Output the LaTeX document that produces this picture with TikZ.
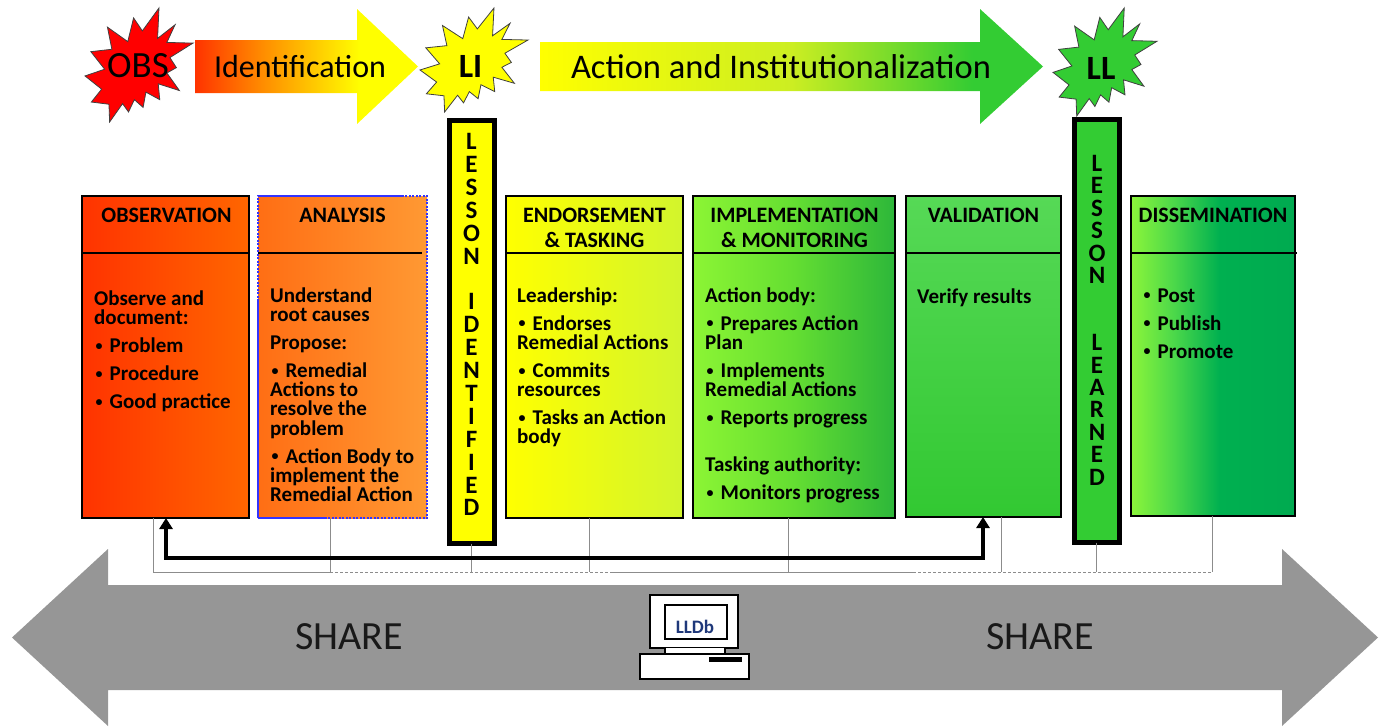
\documentclass[tikz,border=0pt]{standalone}
\usepackage{fontspec}
\setmainfont{Carlito}
\usetikzlibrary{arrows.meta}

\definecolor{obsL}{RGB}{255,51,0}
\definecolor{obsR}{RGB}{255,102,0}
\definecolor{anaL}{RGB}{255,110,20}
\definecolor{anaR}{RGB}{255,153,51}
\definecolor{endL}{RGB}{255,255,0}
\definecolor{endR}{RGB}{210,245,45}
\definecolor{impA}{RGB}{140,245,52}
\definecolor{impB}{RGB}{100,222,50}
\definecolor{impC}{RGB}{45,183,58}
\definecolor{valT}{RGB}{86,217,86}
\definecolor{valB}{RGB}{50,200,50}
\definecolor{disA}{RGB}{140,245,58}
\definecolor{disB}{RGB}{76,216,74}
\definecolor{disC}{RGB}{0,176,80}
\definecolor{disD}{RGB}{0,170,80}
\definecolor{idA}{RGB}{255,51,0}
\definecolor{idB}{RGB}{255,140,0}
\definecolor{idC}{RGB}{255,255,0}
\definecolor{actA}{RGB}{255,255,0}
\definecolor{actB}{RGB}{204,238,34}
\definecolor{actC}{RGB}{51,204,51}
\definecolor{starR}{RGB}{255,0,0}
\definecolor{starY}{RGB}{255,255,0}
\definecolor{starG}{RGB}{51,204,51}
\definecolor{barY}{RGB}{255,255,0}
\definecolor{barG}{RGB}{51,204,51}
\definecolor{shareGray}{RGB}{150,150,150}
\definecolor{busGray}{RGB}{140,140,140}
\definecolor{cBlue}{RGB}{51,51,255}
\definecolor{lldbBlue}{RGB}{31,56,122}

\pgfdeclarehorizontalshading{idsh}{100bp}{color(0bp)=(idA); color(25bp)=(idA); color(40bp)=(idB); color(62bp)=(idC); color(100bp)=(idC)}
\pgfdeclarehorizontalshading{actsh}{100bp}{color(0bp)=(actA); color(25bp)=(actA); color(50bp)=(actB); color(68bp)=(actC); color(100bp)=(actC)}
\pgfdeclarehorizontalshading{impsh}{100bp}{color(0bp)=(impA); color(25bp)=(impA); color(50bp)=(impB); color(75bp)=(impC); color(100bp)=(impC)}
\pgfdeclarehorizontalshading{dissh}{100bp}{color(0bp)=(disA); color(25bp)=(disA); color(38bp)=(disB); color(52bp)=(disC); color(75bp)=(disD); color(100bp)=(disD)}

\newcommand\bodytxt[1]{\vtop{\hsize=240pt\parindent=0pt\parskip=8.7pt\rightskip=0pt plus 1fil\fontsize{21}{19.3}\selectfont\bfseries #1}}
\newcommand\bul{\makebox[15.5pt][l]{\hspace{1.5pt}\raisebox{2.3pt}{\fontsize{14}{14}\selectfont\bfseries •}}}
\newcommand\hdrtxt[1]{\vtop{\baselineskip=25pt\halign{\hfil##\hfil\cr#1\crcr}}}
\newcommand\stackletters[2]{\vtop{\baselineskip=#1\lineskiplimit=-100pt\halign{\hfil##\hfil\cr#2\crcr}}}
\newcommand\explosion[5]{%
  \filldraw[fill=#5, draw=black!75, line width=0.8pt, shift={(#1,#2)}, xscale=#3/100, yscale=#4/100]
  (53.1,20.1) -- (45.0,8.7) -- (39.6,29.5) -- (20.8,16.8) -- (24.9,36.2) -- (5.4,38.3) -- (18.2,53.7) -- (0,59.6) -- (15.4,71.2) -- (5.9,82.5) -- (22.2,84.4) -- (22.8,100) -- (34.8,83.9) -- (40.3,91.2) -- (45.7,80.4) -- (53.8,87.2) -- (56.4,73.8) -- (69.2,80.4) -- (67.8,66.5) -- (87.4,72.4) -- (75.8,57.0) -- (84.6,52.3) -- (78.6,43.5) -- (100,30.8) -- (75.8,30.2) -- (83.4,14.7) -- (67.2,26.7) -- (68.5,0) -- cycle;}

\tikzset{
  box/.style={draw=black, line width=1.2pt, rectangle, inner sep=0pt, outer sep=0pt, anchor=north west},
  hdr/.style={font=\fontsize{22}{25}\selectfont\bfseries, inner sep=0pt, anchor=base},
  body/.style={inner sep=0pt, anchor=base west},
  bar/.style={draw=black, line width=5pt, rectangle, inner sep=0pt, outer sep=0pt, anchor=north west},
  barletters/.style={font=\fontsize{25}{25}\selectfont\bfseries, inner sep=0pt, anchor=base},
  divider/.style={draw=black, line width=1.2pt},
  bus/.style={draw=busGray, line width=1pt},
  busdot/.style={draw=busGray, line width=1pt, dash pattern=on 3pt off 2pt},
  fbk/.style={draw=black, line width=4pt, line join=miter, {Triangle[length=11pt,width=13pt]}-{Triangle[length=11pt,width=13pt]}},
  ttl/.style={font=\fontsize{32}{32}\selectfont, inner sep=0pt},
  starlbl/.style={font=\fontsize{37}{37}\selectfont, inner sep=0pt},
  sharelbl/.style={font=\fontsize{40}{40}\selectfont, text=black!90, inner sep=0pt},
  pc/.style={draw=black, fill=white, line width=2pt},
}

\begin{document}
\begin{tikzpicture}[x=1pt, y=-1pt]
\useasboundingbox (0,0) rectangle (1385,726);
\coordinate (hd) at (0,253);

% ---------- top arrows ----------
\shade[shading=idsh] (195,40) -- (357,40) -- (357,9) -- (418,66.5) -- (357,124) -- (357,93) -- (195,93) -- cycle;
\shade[shading=actsh] (540,42) -- (980,42) -- (980,9) -- (1043,66.5) -- (980,124) -- (980,91) -- (540,91) -- cycle;
\node[ttl] (idt) at (300,66.5) {Identification};
\node[ttl, font=\fontsize{34.5}{34.5}\selectfont] (actt) at (781,66.5) {Action and Institutionalization};

% ---------- stars ----------
\explosion{85}{8}{108}{114}{starR}
\explosion{420}{8}{108}{104}{starY}
\explosion{1053}{8}{104}{108}{starG}
\node[starlbl] (obsl) at (138,66) {OBS};
\node[starlbl, font=\fontsize{34}{34}\selectfont\bfseries] (lil) at (470.5,66.5) {LI};
\node[starlbl, font=\fontsize{34}{34}\selectfont\bfseries] (lll) at (1101,68) {LL};

% ---------- share arrow ----------
\fill[shareGray] (12,637.5) -- (108,549) -- (108,585) -- (1282,585) -- (1282,549) -- (1378,637.5) -- (1282,726) -- (1282,690) -- (108,690) -- (108,726) -- cycle;
\node[sharelbl] (sh1) at (349,637) {SHARE};
\node[sharelbl] (sh2) at (1040,637) {SHARE};

% ---------- computer ----------
\draw[pc] (650,595) rectangle (738,648);
\fill[white] (665,648) rectangle (725,654);
\draw[black, line width=1.5pt] (665,648) -- (665,654) (725,648) -- (725,654);
\draw[pc] (640,654) rectangle (749,679);
\fill[black] (709,657) rectangle (742,662);
\node[pc, minimum width=62pt, minimum height=34pt, inner sep=0pt, anchor=north west] (screen) at (664,604) {};
\node[font=\fontsize{19}{19}\selectfont\bfseries, text=lldbBlue, inner sep=0pt] (lldb) at (695,627) {LLDb};

% ---------- boxes ----------
\node[box, shade, left color=obsL, right color=obsR, minimum width=167pt, minimum height=322pt] (obs) at (82,196) {};
\node[box, shade, left color=anaL, right color=anaR, draw=cBlue, dash pattern=on 2pt off 1.5pt, minimum width=169pt, minimum height=322pt] (ana) at (258,196) {};
\node[box, shade, left color=endL, right color=endR, minimum width=177pt, minimum height=322pt] (endo) at (506,196) {};
\node[box, shade, shading=impsh, minimum width=202pt, minimum height=322pt] (imp) at (693,196) {};
\node[box, shade, top color=valT, bottom color=valB, minimum width=155pt, minimum height=321pt] (val) at (906,196) {};
\node[box, shade, shading=dissh, minimum width=164pt, minimum height=320pt] (dis) at (1131,196) {};

\draw[cBlue, line width=1.2pt] (ana.north west) -- ++(144,0) (ana.south west) -- ++(69,0) (ana.south west) -- ++(0,-218);

% dividers
\draw[divider] (obs.west |- hd) -- (obs.east |- hd);
\draw[divider] (ana.west |- hd) -- ([xshift=-5pt]ana.east |- hd);
\draw[divider] (endo.west |- hd) -- (endo.east |- hd);
\draw[divider] (imp.west |- hd) -- (imp.east |- hd);
\draw[divider] (val.west |- hd) -- (val.east |- hd);
\draw[divider] (dis.west |- hd) -- ([xshift=2pt]dis.east |- hd);

% headers
\node[hdr] (obsh) at (166.5,222) {OBSERVATION};
\node[hdr] (anah) at (342.5,222) {ANALYSIS};
\node[hdr] (endh) at (594.5,222) {\hdrtxt{ENDORSEMENT\cr \& TASKING}};
\node[hdr] (imph) at (794.5,222) {\hdrtxt{IMPLEMENTATION\cr \& MONITORING}};
\node[hdr] (valh) at (983.5,222) {VALIDATION};
\node[hdr] (dish) at (1213,222) {DISSEMINATION};

% body texts
\node[body] (obsb) at (94,305) {\bodytxt{Observe and\\document:\par \bul Problem\par \bul Procedure\par \bul Good practice}};
\node[body] (anab) at (270,302) {\bodytxt{Understand\\root causes\par Propose:\par \bul Remedial\\Actions to\\resolve the\\problem\par \bul Action Body to\\implement the\\Remedial Action}};
\node[body] (endb) at (517,302) {\bodytxt{Leadership:\par \bul Endorses\\Remedial Actions\par \bul Commits\\resources\par \bul Tasks an Action\\body}};
\node[body] (impb) at (705,302) {\bodytxt{Action body:\par \bul Prepares Action\\Plan\par \bul Implements\\Remedial Actions\par \bul Reports progress\par\vskip19.3pt Tasking authority:\par \bul Monitors progress}};
\node[body] (valb) at (917,303) {\bodytxt{Verify results}};
\node[body] (disb) at (1142,302) {\bodytxt{\bul Post\par \bul Publish\par \bul Promote}};

% ---------- lesson bars ----------
\node[bar, fill=barY, minimum width=44.5pt, minimum height=423.5pt] (li) at (449.5,120) {};
\node[bar, fill=barG, minimum width=45pt, minimum height=423pt] (ll) at (1074.5,119.5) {};
\node[barletters] (lit) at (471.5,149.5) {\stackletters{22.9pt}{L\cr E\cr S\cr S\cr O\cr N\cr \cr I\cr D\cr E\cr N\cr T\cr I\cr F\cr I\cr E\cr D}};
\node[barletters] (llt) at (1097,171.5) {\stackletters{22.4pt}{L\cr E\cr S\cr S\cr O\cr N\cr \cr \cr L\cr E\cr A\cr R\cr N\cr E\cr D}};

% ---------- gray bus ----------
\coordinate (b1) at (153,572);
\coordinate (b2) at (330,572);
\coordinate (b3) at (471,572);
\coordinate (b4) at (589,572);
\coordinate (b5) at (788,572);
\coordinate (b6) at (1001,572);
\coordinate (b7) at (1096,572);
\coordinate (b8) at (1212,572);
\coordinate (bx1) at (610,572);
\coordinate (bx2) at (913,572);
\draw[bus] (b1 |- obs.south) -- (b1);
\draw[bus] (b2 |- ana.south) -- (b2);
\draw[bus] (b3 |- li.south) -- (b3);
\draw[bus] (b4 |- endo.south) -- (b4);
\draw[bus] (b5 |- imp.south) -- (b5);
\draw[bus] (b6 |- val.south) -- (b6);
\draw[bus] (b7 |- ll.south) -- (b7);
\draw[bus] (b8 |- dis.south) -- (b8);
\draw[bus] (b1) -- (b2);
\draw[busdot] (b2) -- (bx1);
\draw[bus] (bx1) -- (bx2);
\draw[busdot] (bx2) -- (b8);

% ---------- feedback arrow ----------
\coordinate (fa) at (166,558);
\coordinate (fb) at (983,558);
\draw[fbk] (fa |- obs.south) -- (fa) -- (fb) -- (fb |- val.south);
\end{tikzpicture}
\end{document}
